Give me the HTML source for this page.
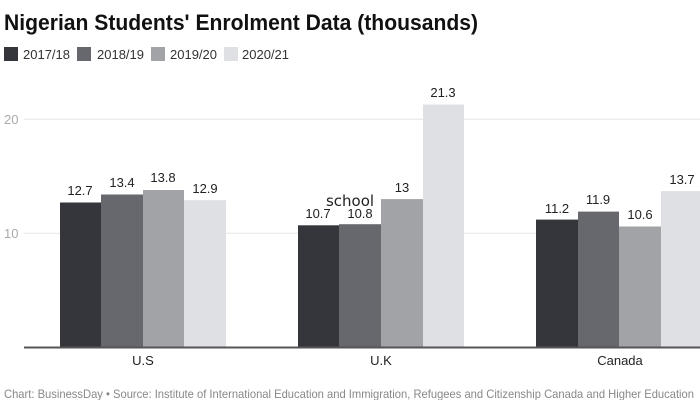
<!DOCTYPE html>
<html><head><style>
body{margin:0;width:700px;height:400px;background:#fff;overflow:hidden;font-family:"Liberation Sans",sans-serif}
</style></head><body>
<svg width="700" height="400" xmlns="http://www.w3.org/2000/svg" font-family="Liberation Sans, sans-serif">
<text x="4" y="30" font-size="22" font-weight="bold" fill="#111" textLength="474" lengthAdjust="spacingAndGlyphs">Nigerian Students' Enrolment Data (thousands)</text>
<g font-size="13" fill="#333">
<rect x="4" y="47" width="14" height="14" fill="#34363b"/><text x="23" y="59">2017/18</text>
<rect x="77" y="47" width="14" height="14" fill="#66686d"/><text x="97" y="59">2018/19</text>
<rect x="151" y="47" width="14" height="14" fill="#a1a3a7"/><text x="170" y="59">2019/20</text>
<rect x="224" y="47" width="14" height="14" fill="#dfe0e4"/><text x="242" y="59">2020/21</text>
</g>
<line x1="24" y1="119.3" x2="700" y2="119.3" stroke="#e5e5e5"/>
<line x1="24" y1="233.3" x2="700" y2="233.3" stroke="#e5e5e5"/>
<text x="4" y="124" font-size="13" fill="#aaa">20</text>
<text x="4" y="238" font-size="13" fill="#aaa">10</text>
<g>
<rect x="60" y="202.5" width="41" height="144.8" fill="#34363b"/>
<rect x="101" y="194.5" width="42" height="152.8" fill="#66686d"/>
<rect x="143" y="190" width="41" height="157.3" fill="#a1a3a7"/>
<rect x="184" y="200.2" width="42" height="147.1" fill="#dfe0e4"/>
<rect x="298" y="225.3" width="41" height="122" fill="#34363b"/>
<rect x="339" y="224.2" width="42" height="123.1" fill="#66686d"/>
<rect x="381" y="199.1" width="42" height="148.2" fill="#a1a3a7"/>
<rect x="423" y="104.5" width="41" height="242.8" fill="#dfe0e4"/>
<rect x="536" y="219.6" width="42" height="127.7" fill="#34363b"/>
<rect x="578" y="211.6" width="41" height="135.7" fill="#66686d"/>
<rect x="619" y="226.5" width="42" height="120.8" fill="#a1a3a7"/>
<rect x="661" y="191.1" width="42" height="156.2" fill="#dfe0e4"/>
</g>
<g font-size="13" fill="#222" text-anchor="middle">
<text x="80" y="195">12.7</text><text x="122" y="187">13.4</text><text x="163" y="182">13.8</text><text x="205" y="193">12.9</text>
<text x="318" y="218">10.7</text><text x="360" y="218">10.8</text><text x="402" y="192">13</text><text x="443" y="97">21.3</text>
<text x="557" y="213">11.2</text><text x="598" y="204">11.9</text><text x="640" y="219">10.6</text><text x="682" y="184">13.7</text>
</g>
<text x="350" y="206" font-size="15" fill="#222" text-anchor="middle" font-family="DejaVu Sans, sans-serif">school</text>
<line x1="24" y1="347.5" x2="700" y2="347.5" stroke="#555" stroke-width="2"/>
<g font-size="13" fill="#222" text-anchor="middle">
<text x="143" y="365">U.S</text><text x="381" y="365">U.K</text><text x="620" y="365">Canada</text>
</g>
<text x="4" y="398" font-size="12" fill="#888" textLength="690" lengthAdjust="spacingAndGlyphs">Chart: BusinessDay • Source: Institute of International Education and Immigration, Refugees and Citizenship Canada and Higher Education</text>
</svg>
</body></html>
